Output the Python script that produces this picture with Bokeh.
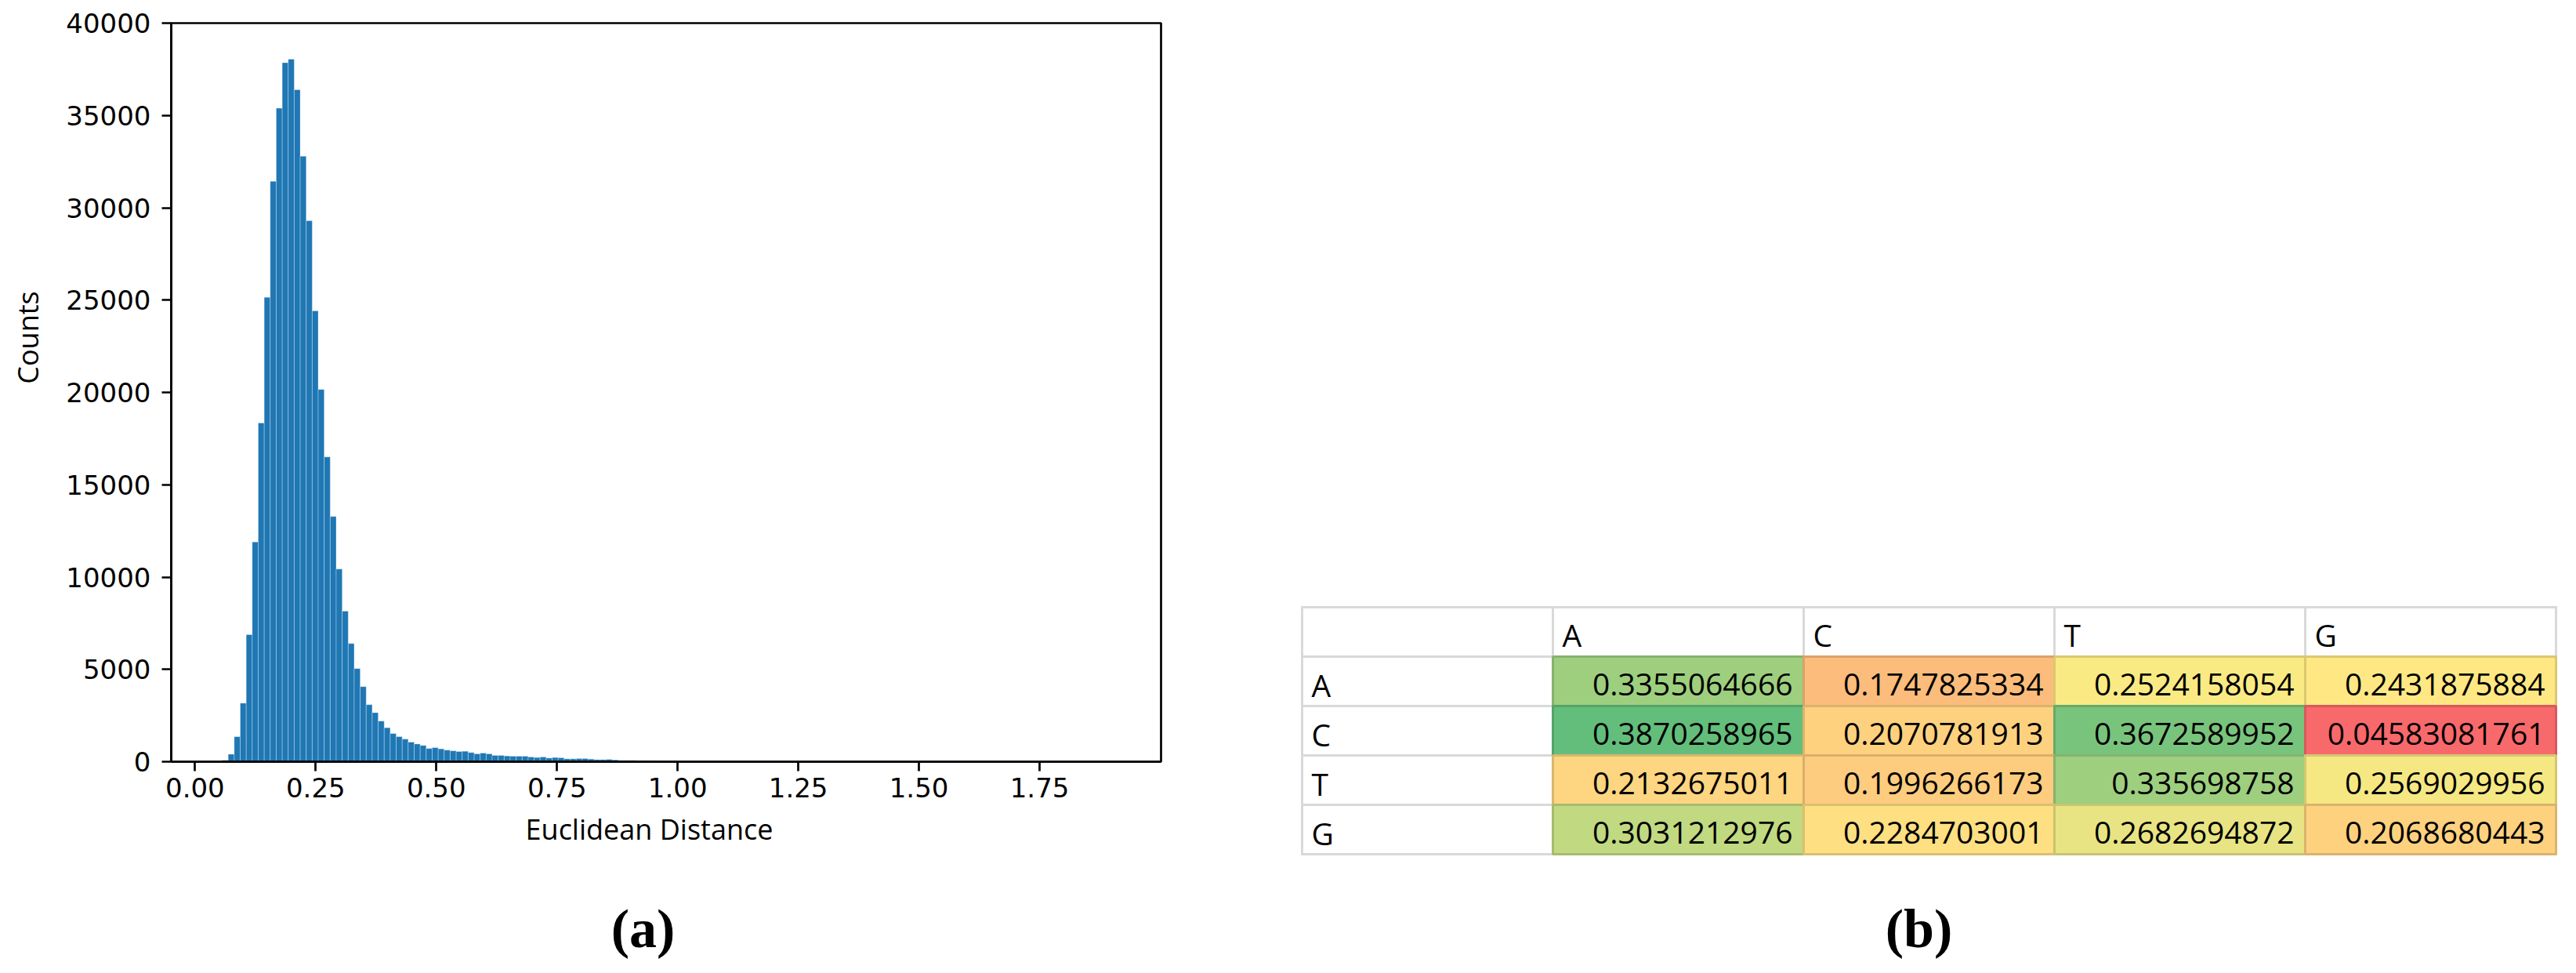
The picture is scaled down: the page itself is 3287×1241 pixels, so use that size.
import numpy as np
from bokeh.plotting import figure
from bokeh.models import Range1d, FixedTicker, NumeralTickFormatter, BoxAnnotation
from bokeh.layouts import row
from bokeh.embed import file_html
from bokeh.resources import INLINE
from bokeh.core.properties import value

# ---------------- data: histogram (a) ----------------
bin_start = 0.0439
bin_width = 0.01243
counts = [
    5, 80, 406, 1355, 3170, 6883, 11897, 18347, 25149, 31436,
    35393, 37859, 38048, 36395, 32791, 29295, 24417, 20162, 16504, 13279,
    10434, 8157, 6396, 5041, 4065, 3089, 2656, 2200, 1840, 1525,
    1357, 1226, 1060, 960, 880, 715, 762, 695, 630, 590,
    552, 566, 496, 425, 467, 425, 340, 340, 311, 297,
    297, 297, 255, 227, 255, 198, 227, 212, 156, 156,
    170, 170, 142, 113, 113, 127, 99, 71, 71, 71,
    57, 57, 50,
    42, 38, 33, 30, 27, 24, 21, 19, 17, 15,
    14, 12, 11, 10, 9, 8, 7, 7, 6, 5,
    5, 4, 4, 4, 3, 3, 3, 2, 2, 2,
    2, 2, 1, 1, 1, 1, 1, 1, 1, 0,
    1, 0, 0, 1, 0, 0, 0, 1, 0, 0,
    0, 0, 1, 0, 0, 0, 0, 0, 1, 0,
    0, 0, 0, 0, 0, 0, 0, 0, 0, 0,
    0, 0, 0, 0, 0, 0, 1,
]
x_ticks = [0.0, 0.25, 0.5, 0.75, 1.0, 1.25, 1.5, 1.75]
y_ticks = [0, 5000, 10000, 15000, 20000, 25000, 30000, 35000, 40000]
y_max = 40000
x_label = "Euclidean Distance"
y_label = "Counts"
panel_labels = ["(a)", "(b)"]

# ---------------- data: table (b) ----------------
table_rows = ["A", "C", "T", "G"]
table_cols = ["A", "C", "T", "G"]
row_A = [0.3355064666, 0.1747825334, 0.2524158054, 0.2431875884]
row_C = [0.3870258965, 0.2070781913, 0.3672589952, 0.04583081761]
row_T = [0.2132675011, 0.1996266173, 0.335698758, 0.2569029956]
row_G = [0.3031212976, 0.2284703001, 0.2682694872, 0.2068680443]
table_values = [row_A, row_C, row_T, row_G]

# ---------------- layout (page pixels) ----------------
H = 1241
W1, W2 = 1640, 1647
PAGE0 = 0
box_l, box_r, box_t, box_b = 218, 1481, 29, 971      # histogram axes box
tab_l, tab_t, col_px, row_px = 1661, 774, 320, 63      # table grid
BASE_FIX = 0.38   # measured renderer baseline shift (em)

# ================= histogram figure =================
n = len(counts)
edges = bin_start + bin_width * np.arange(n + 1)
span = edges[-1] - edges[0]
x0 = edges[0] - 0.05 * span
x1 = edges[-1] + 0.05 * span
ppu = (box_r - box_l) / (x1 - x0)          # px per x unit
cpp = y_max / (box_b - box_t)              # counts per px
xs = x0 - (box_l - PAGE0) / ppu
xe = x1 + (PAGE0 + W1 - box_r) / ppu
ye = y_max + (box_t - PAGE0) * cpp
ys = -(PAGE0 + H - box_b) * cpp


def hx(px):
    return x0 + (px - box_l) / ppu


def hy(py):
    return (box_b - py) * cpp


p = figure(width=W1, height=H, title=None, min_border=0,
           x_range=Range1d(xs, xe), y_range=Range1d(ys, ye),
           output_backend="svg", toolbar_location=None)
p.background_fill_color = "white"
p.border_fill_color = "white"
p.outline_line_color = None
p.xgrid.visible = False
p.ygrid.visible = False

p.quad(left=edges[:-1], right=edges[1:], bottom=0, top=counts,
       fill_color="#1f77b4", line_color="white", line_alpha=0.3, line_width=1)

p.add_layout(BoxAnnotation(left=x0, right=x1, bottom=0, top=y_max,
                           fill_color=None, fill_alpha=0,
                           line_color="black", line_width=2.7, line_alpha=1))

p.xaxis.ticker = FixedTicker(ticks=x_ticks)
p.xaxis.formatter = NumeralTickFormatter(format="0.00")
p.yaxis.ticker = FixedTicker(ticks=y_ticks)
p.yaxis.formatter = NumeralTickFormatter(format="0")
p.xaxis.fixed_location = 0
p.xaxis.bounds = (x0, x1)
p.yaxis.fixed_location = x0
p.yaxis.bounds = (0, y_max)
for ax in (p.xaxis[0], p.yaxis[0]):
    ax.axis_line_width = 2.7
    ax.axis_line_color = "black"
    ax.major_tick_line_width = 2.7
    ax.major_tick_line_color = "black"
    ax.major_tick_out = 12
    ax.major_tick_in = 0
    ax.minor_tick_line_color = None
    ax.major_label_text_font = "DejaVu Sans"
    ax.major_label_text_font_size = "34px"
    ax.major_label_text_color = "black"
p.xaxis.major_label_standoff = 8
p.yaxis.major_label_standoff = 14

p.text(x=[hx(34.5)], y=[hy(430)], text=[y_label], angle=np.pi / 2,
       text_align="center", text_baseline="middle",
       text_font=value("Open Sans"), text_font_size="36px", text_color="black")
p.text(x=[hx(828)], y=[hy(1071)], text=[x_label], text_align="center",
       text_baseline="alphabetic", y_offset=-BASE_FIX * 36,
       text_font=value("Open Sans"), text_font_size="36px", text_color="black")
p.text(x=[hx(820)], y=[hy(1211)], text=[panel_labels[0]], text_align="center",
       text_baseline="alphabetic", y_offset=-BASE_FIX * 70,
       text_font=value("Liberation Serif"),
       text_font_style="bold", text_font_size="70px", text_color="black")

# ================= table figure =================
ncol = len(table_cols) + 1
nrow = len(table_rows) + 1
tab_b = tab_t + nrow * row_px
fig2_l = PAGE0 + W1
tx_s = -(tab_l - fig2_l) / col_px
tx_e = (fig2_l + W2 - tab_l) / col_px
ty_s = -(PAGE0 + H - tab_b) / row_px
ty_e = nrow + (tab_t - PAGE0) / row_px

t = figure(width=W2, height=H, title=None, min_border=0,
           x_range=Range1d(tx_s, tx_e), y_range=Range1d(ty_s, ty_e),
           x_axis_type=None, y_axis_type=None,
           output_backend="svg", toolbar_location=None)
t.outline_line_color = None
t.background_fill_color = "white"
t.border_fill_color = "white"
t.grid.visible = False

# gray grid lines
gx0, gy0, gx1, gy1 = [], [], [], []
for k in range(nrow + 1):
    gx0.append(0); gx1.append(ncol); gy0.append(k); gy1.append(k)
for k in range(ncol + 1):
    gx0.append(k); gx1.append(k); gy0.append(0); gy1.append(nrow)
t.segment(x0=gx0, y0=gy0, x1=gx1, y1=gy1, line_color="#D9D9D9",
          line_width=3, line_cap="square")

# Excel-like 3 colour scale
all_vals = np.array(table_values).ravel()
vmin, vmid, vmax = all_vals.min(), np.percentile(all_vals, 50), all_vals.max()
c_lo, c_mid, c_hi = (248, 105, 107), (255, 235, 132), (99, 190, 123)


def scale_color(v, f=1.0):
    if v <= vmid:
        a, b, tt = c_lo, c_mid, (v - vmin) / (vmid - vmin)
    else:
        a, b, tt = c_mid, c_hi, (v - vmid) / (vmax - vmid)
    rgb = [int(round((a[i] + (b[i] - a[i]) * tt) * f)) for i in range(3)]
    return "#%02x%02x%02x" % tuple(rgb)


ql, qr, qb, qt, fills, lines = [], [], [], [], [], []
tx, ty, ttext = [], [], []
for r, vals in enumerate(table_values):
    for c, v in enumerate(vals):
        ql.append(1 + c); qr.append(2 + c)
        qb.append(len(table_rows) - 1 - r); qt.append(len(table_rows) - r)
        fills.append(scale_color(v))
        lines.append(scale_color(v, 0.86))
        tx.append(2 + c); ty.append(len(table_rows) - 1 - r); ttext.append(str(v))
t.quad(left=ql, right=qr, bottom=qb, top=qt, fill_color=fills,
       line_color=lines, line_width=3)

font = value("Open Sans")
fs = 39
fix = BASE_FIX * fs
t.text(x=[1 + c for c in range(len(table_cols))], y=[len(table_rows)] * len(table_cols),
       text=table_cols, x_offset=12, y_offset=-13 - fix, text_align="left",
       text_baseline="alphabetic", text_font=font, text_font_size="%dpx" % fs,
       text_color="black")
t.text(x=[0] * len(table_rows), y=[len(table_rows) - 1 - r for r in range(len(table_rows))],
       text=table_rows, x_offset=12, y_offset=-12 - fix, text_align="left",
       text_baseline="alphabetic", text_font=font, text_font_size="%dpx" % fs,
       text_color="black")
t.text(x=tx, y=ty, text=ttext, x_offset=-14, y_offset=-13 - fix, text_align="right",
       text_baseline="alphabetic", text_font=font, text_font_size="%dpx" % fs,
       text_color="black")

t.text(x=[(2448 - tab_l) / col_px], y=[-(1211 - tab_b) / row_px],
       text=[panel_labels[1]], text_align="center", y_offset=-BASE_FIX * 70,
       text_baseline="alphabetic", text_font=value("Liberation Serif"),
       text_font_style="bold", text_font_size="70px", text_color="black")

layout = row(p, t)
open("out.html", "w").write(file_html(layout, INLINE))
